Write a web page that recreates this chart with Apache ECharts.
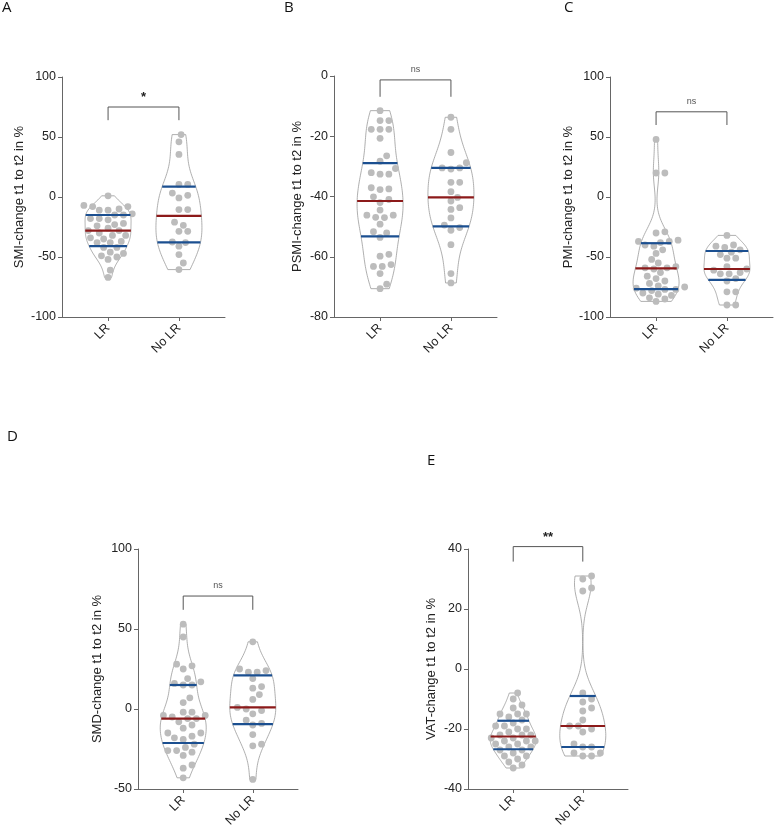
<!DOCTYPE html>
<html lang="en">
<head>
<meta charset="UTF-8">
<title>Body composition change t1 to t2</title>
<script src="https://cdn.jsdelivr.net/npm/echarts@6/dist/echarts.min.js"></script>
<style>
  body { margin: 0; background: #fff; }
  #chart { width: 778px; height: 834px; }
</style>
</head>
<body>
<div id="chart"></div>
<script>
const groups = ['LR', 'No LR'];

// A - SMI
const smiLR = [1, -7, -8, -8, -10, -11, -11, -14, -15, -15, -18, -18, -19, -22, -23, -24, -26, -28, -28, -30, -32, -32, -34, -35, -37, -38, -38, -42, -42, -46, -47, -49, -50, -52, -61, -67];
const smiNoLR = [52, 46, 35.5, 10.5, 10.5, 3.3, 1.4, -0.8, -10.5, -10.5, -21, -23.6, -28.6, -28.6, -37.5, -38, -41, -48, -55, -60.5];
const smiAxis = [-100, 100, 50];      // min, max, interval
const smiBracket = [75, 64];          // bracket level, leg end

// B - PSMI
const psmiLR = [-11.5, -14.8, -14.8, -17.7, -17.7, -17.7, -20.7, -26.5, -28.3, -30.7, -32.1, -32.6, -32.6, -37.1, -37.5, -37.7, -40.1, -41, -42, -44.5, -46.2, -46.2, -46.9, -47, -49.2, -51.7, -52.1, -53.6, -59.2, -59.8, -62.6, -63.2, -63.2, -65.6, -69.1, -70.6];
const psmiNoLR = [-13.7, -17.7, -25.4, -28.8, -30.5, -30.5, -30.9, -35.3, -35.3, -38.4, -40.3, -41.5, -43.7, -44.3, -47.1, -49.5, -50.3, -51.2, -56, -65.6, -68.7];
const psmiAxis = [-80, 0, 20];
const psmiBracket = [-1.3, -6.9];

// C - PMI
const pmiLR = [48, 20, 20, -29, -30, -36, -37, -37, -38, -40, -41, -44, -47, -52, -55, -58, -59, -59, -60, -63, -66, -68, -70, -72, -74, -75, -76, -77, -77, -78, -80, -81, -82, -84, -85, -87];
const pmiNoLR = [-32, -40, -41, -42, -44, -46, -48, -51, -51, -58, -60, -61, -63, -64, -64, -68, -70, -79, -79, -90, -90];
const pmiAxis = [-100, 100, 50];
const pmiBracket = [71, 60];

// D - SMD
const smdLR = [53, 45, 28, 27, 25, 19, 17, 16, 15, 15, 7, 4, -2, -2, -4, -4, -5, -6, -6, -8, -10, -12, -15, -15, -17, -18, -19, -22, -24, -26, -26, -27, -29, -35, -37, -43];
const smdNoLR = [42, 25, 24, 23, 23, 19, 14, 13, 9, 6, 1, 0, -1, -3, -7, -9, -10, -16, -22, -23, -44];
const smdAxis = [-50, 100, 50];
const smdBracket = [70.6, 62];

// E - VAT
const vatLR = [-8, -10, -12, -13, -15, -15, -15, -16, -17, -18, -19, -19, -20, -20, -21, -22, -22, -22, -23, -23, -24, -24, -24, -25, -25, -26, -26, -27, -27, -28, -29, -29, -30, -31, -32, -33];
const vatNoLR = [31, 30, 27, 26, -8, -10, -11, -13, -14, -17, -19, -19, -20, -21, -25, -26, -26, -28, -28, -29, -29];
const vatAxis = [-40, 40, 20];
const vatBracket = [40.8, 35.8];

const panels = [
  { letter: 'A', name: 'SMI-change t1 to t2 in %', axis: smiAxis, sets: [smiLR, smiNoLR], bracket: smiBracket, mark: '*' },
  { letter: 'B', name: 'PSMI-change t1 to t2 in %', axis: psmiAxis, sets: [psmiLR, psmiNoLR], bracket: psmiBracket, mark: 'ns' },
  { letter: 'C', name: 'PMI-change t1 to t2 in %', axis: pmiAxis, sets: [pmiLR, pmiNoLR], bracket: pmiBracket, mark: 'ns' },
  { letter: 'D', name: 'SMD-change t1 to t2 in %', axis: smdAxis, sets: [smdLR, smdNoLR], bracket: smdBracket, mark: 'ns' },
  { letter: 'E', name: 'VAT-change t1 to t2 in %', axis: vatAxis, sets: [vatLR, vatNoLR], bracket: vatBracket, mark: '**' }
];

// where each panel sits on the page
const layout = [
  { left: 62, top: 77, width: 163, height: 240, gap: 36, lx: 2, ly: 0 },
  { left: 334, top: 76, width: 163, height: 241, gap: 30, lx: 284, ly: 0 },
  { left: 610, top: 77, width: 163, height: 240, gap: 35, lx: 564, ly: 0 },
  { left: 138, top: 549, width: 160, height: 240, gap: 34, lx: 7, ly: 429 },
  { left: 468, top: 549, width: 160, height: 240, gap: 30, lx: 427, ly: 453 }
];

const DOT = '#bcbcbc', BLUE = '#1b4f90', RED = '#8c1a1a', OUTLINE = '#9a9a9a';
const R = 3.4, HALF = 23;

function quantile(sorted, p) {
  const n = sorted.length;
  const pos = (n + 1) * p - 1;
  const lo = Math.max(0, Math.min(n - 1, Math.floor(pos)));
  const hi = Math.min(n - 1, lo + 1);
  const f = Math.min(1, Math.max(0, pos - lo));
  return sorted[lo] + (sorted[hi] - sorted[lo]) * f;
}

// simple beeswarm in pixel space
function swarm(ys) {
  const order = ys.map((y, i) => i).sort((a, b) => ys[b] - ys[a]);
  const xs = new Array(ys.length);
  const placed = [];
  const minD = 2 * R + 0.6, step = 2.2;
  order.forEach(i => {
    for (let k = 0; k < 200; k++) {
      const off = k === 0 ? 0 : (k % 2 ? 1 : -1) * Math.ceil(k / 2) * step;
      const ok = placed.every(p => (p[0] - off) ** 2 + (p[1] - ys[i]) ** 2 >= minD * minD);
      if (ok) { xs[i] = off; placed.push([off, ys[i]]); break; }
    }
  });
  return xs;
}

function violinRender(sets) {
  return function (params, api) {
    const i = params.dataIndex;
    const vals = sets[i].slice().sort((a, b) => a - b);
    const n = vals.length;
    const mean = vals.reduce((s, v) => s + v, 0) / n;
    const sd = Math.sqrt(vals.reduce((s, v) => s + (v - mean) ** 2, 0) / (n - 1));
    const q1 = quantile(vals, 0.25), med = quantile(vals, 0.5), q3 = quantile(vals, 0.75);
    const h = 0.9 * Math.min(sd, (q3 - q1) / 1.34) * Math.pow(n, -0.2);
    const dens = y => vals.reduce((s, v) => s + Math.exp(-0.5 * ((y - v) / h) ** 2), 0);
    const lo = vals[0], hi = vals[n - 1];
    const samples = [];
    for (let k = 0; k <= 80; k++) samples.push(lo + (hi - lo) * k / 80);
    const ds = samples.map(dens);
    const dmax = Math.max.apply(null, ds);
    const cx = api.coord([i, 0])[0];
    const py = v => api.coord([i, v])[1];
    const right = samples.map((y, k) => [cx + HALF * ds[k] / dmax, py(y)]);
    const left = samples.map((y, k) => [cx - HALF * ds[k] / dmax, py(y)]).reverse();
    const children = [{
      type: 'polygon',
      shape: { points: right.concat(left) },
      style: { fill: '#fff', stroke: OUTLINE, lineWidth: 0.8 }
    }];
    const ys = sets[i].map(py);
    const xs = swarm(ys);
    ys.forEach((y, k) => {
      children.push({ type: 'circle', shape: { cx: cx + xs[k], cy: y, r: R }, style: { fill: DOT } });
    });
    [[q3, BLUE], [q1, BLUE], [med, RED]].forEach(([q, c]) => {
      const w = HALF * dens(q) / dmax;
      const y = py(q);
      children.push({
        type: 'line',
        shape: { x1: cx - w, y1: y, x2: cx + w, y2: y },
        style: { stroke: c, lineWidth: 2.2 }
      });
    });
    return { type: 'group', children: children };
  };
}

function bracketRender(level, mark) {
  return function (params, api) {
    const a = api.coord([0, level[0]]), b = api.coord([1, level[0]]);
    const a2 = api.coord([0, level[1]]), b2 = api.coord([1, level[1]]);
    const big = mark !== 'ns';
    return {
      type: 'group',
      children: [
        { type: 'polyline', shape: { points: [a2, a, b, b2] }, style: { stroke: '#555', lineWidth: 1, fill: null } },
        {
          type: 'text',
          x: (a[0] + b[0]) / 2,
          y: a[1] - (big ? 3 : 6),
          style: {
            text: mark,
            textAlign: 'center',
            textVerticalAlign: 'bottom',
            fill: big ? '#222' : '#555',
            font: big ? 'bold 13px "Liberation Sans", Arial, sans-serif' : '9px "Liberation Sans", Arial, sans-serif'
          }
        }
      ]
    };
  };
}

const font = '"Liberation Sans", Arial, sans-serif';
const grid = [], xAxis = [], yAxis = [], series = [], title = [];

panels.forEach((p, k) => {
  const L = layout[k];
  grid.push({ left: L.left, top: L.top, width: L.width, height: L.height });
  title.push({
    text: p.letter, left: L.lx, top: L.ly, padding: 0,
    textStyle: { fontFamily: '"Open Sans", sans-serif', fontSize: 15, fontWeight: 'normal', color: '#111' }
  });
  xAxis.push({
    type: 'value', gridIndex: k, min: -0.65, max: 1.65,
    axisLine: { show: true, onZero: false, lineStyle: { color: '#666', width: 1 } },
    axisTick: { show: true, length: 4, customValues: [0, 1], lineStyle: { color: '#666' } },
    axisLabel: {
      customValues: [0, 1], rotate: 45, margin: 9,
      formatter: v => groups[Math.round(v)],
      color: '#222', fontSize: 12.5, fontFamily: font
    },
    splitLine: { show: false }
  });
  yAxis.push({
    type: 'value', gridIndex: k, min: p.axis[0], max: p.axis[1], interval: p.axis[2],
    name: p.name, nameLocation: 'middle', nameRotate: 90, nameGap: L.gap,
    nameTextStyle: { color: '#222', fontSize: 13, fontFamily: font },
    axisLine: { show: true, onZero: false, lineStyle: { color: '#666', width: 1 } },
    axisTick: { show: true, length: 4, lineStyle: { color: '#666' } },
    axisLabel: { color: '#222', fontSize: 12.5, fontFamily: font, margin: 6 },
    splitLine: { show: false }
  });
  series.push({
    type: 'custom', xAxisIndex: k, yAxisIndex: k,
    data: [[0, 0], [1, 0]],
    renderItem: violinRender(p.sets),
    clip: false, silent: true
  });
  series.push({
    type: 'custom', xAxisIndex: k, yAxisIndex: k,
    data: [[0, 0]],
    renderItem: bracketRender(p.bracket, p.mark),
    clip: false, silent: true
  });
});

const chart = echarts.init(document.getElementById('chart'));
chart.setOption({
  animation: false,
  backgroundColor: '#fff',
  title: title,
  grid: grid,
  xAxis: xAxis,
  yAxis: yAxis,
  series: series
});
</script>
</body>
</html>
